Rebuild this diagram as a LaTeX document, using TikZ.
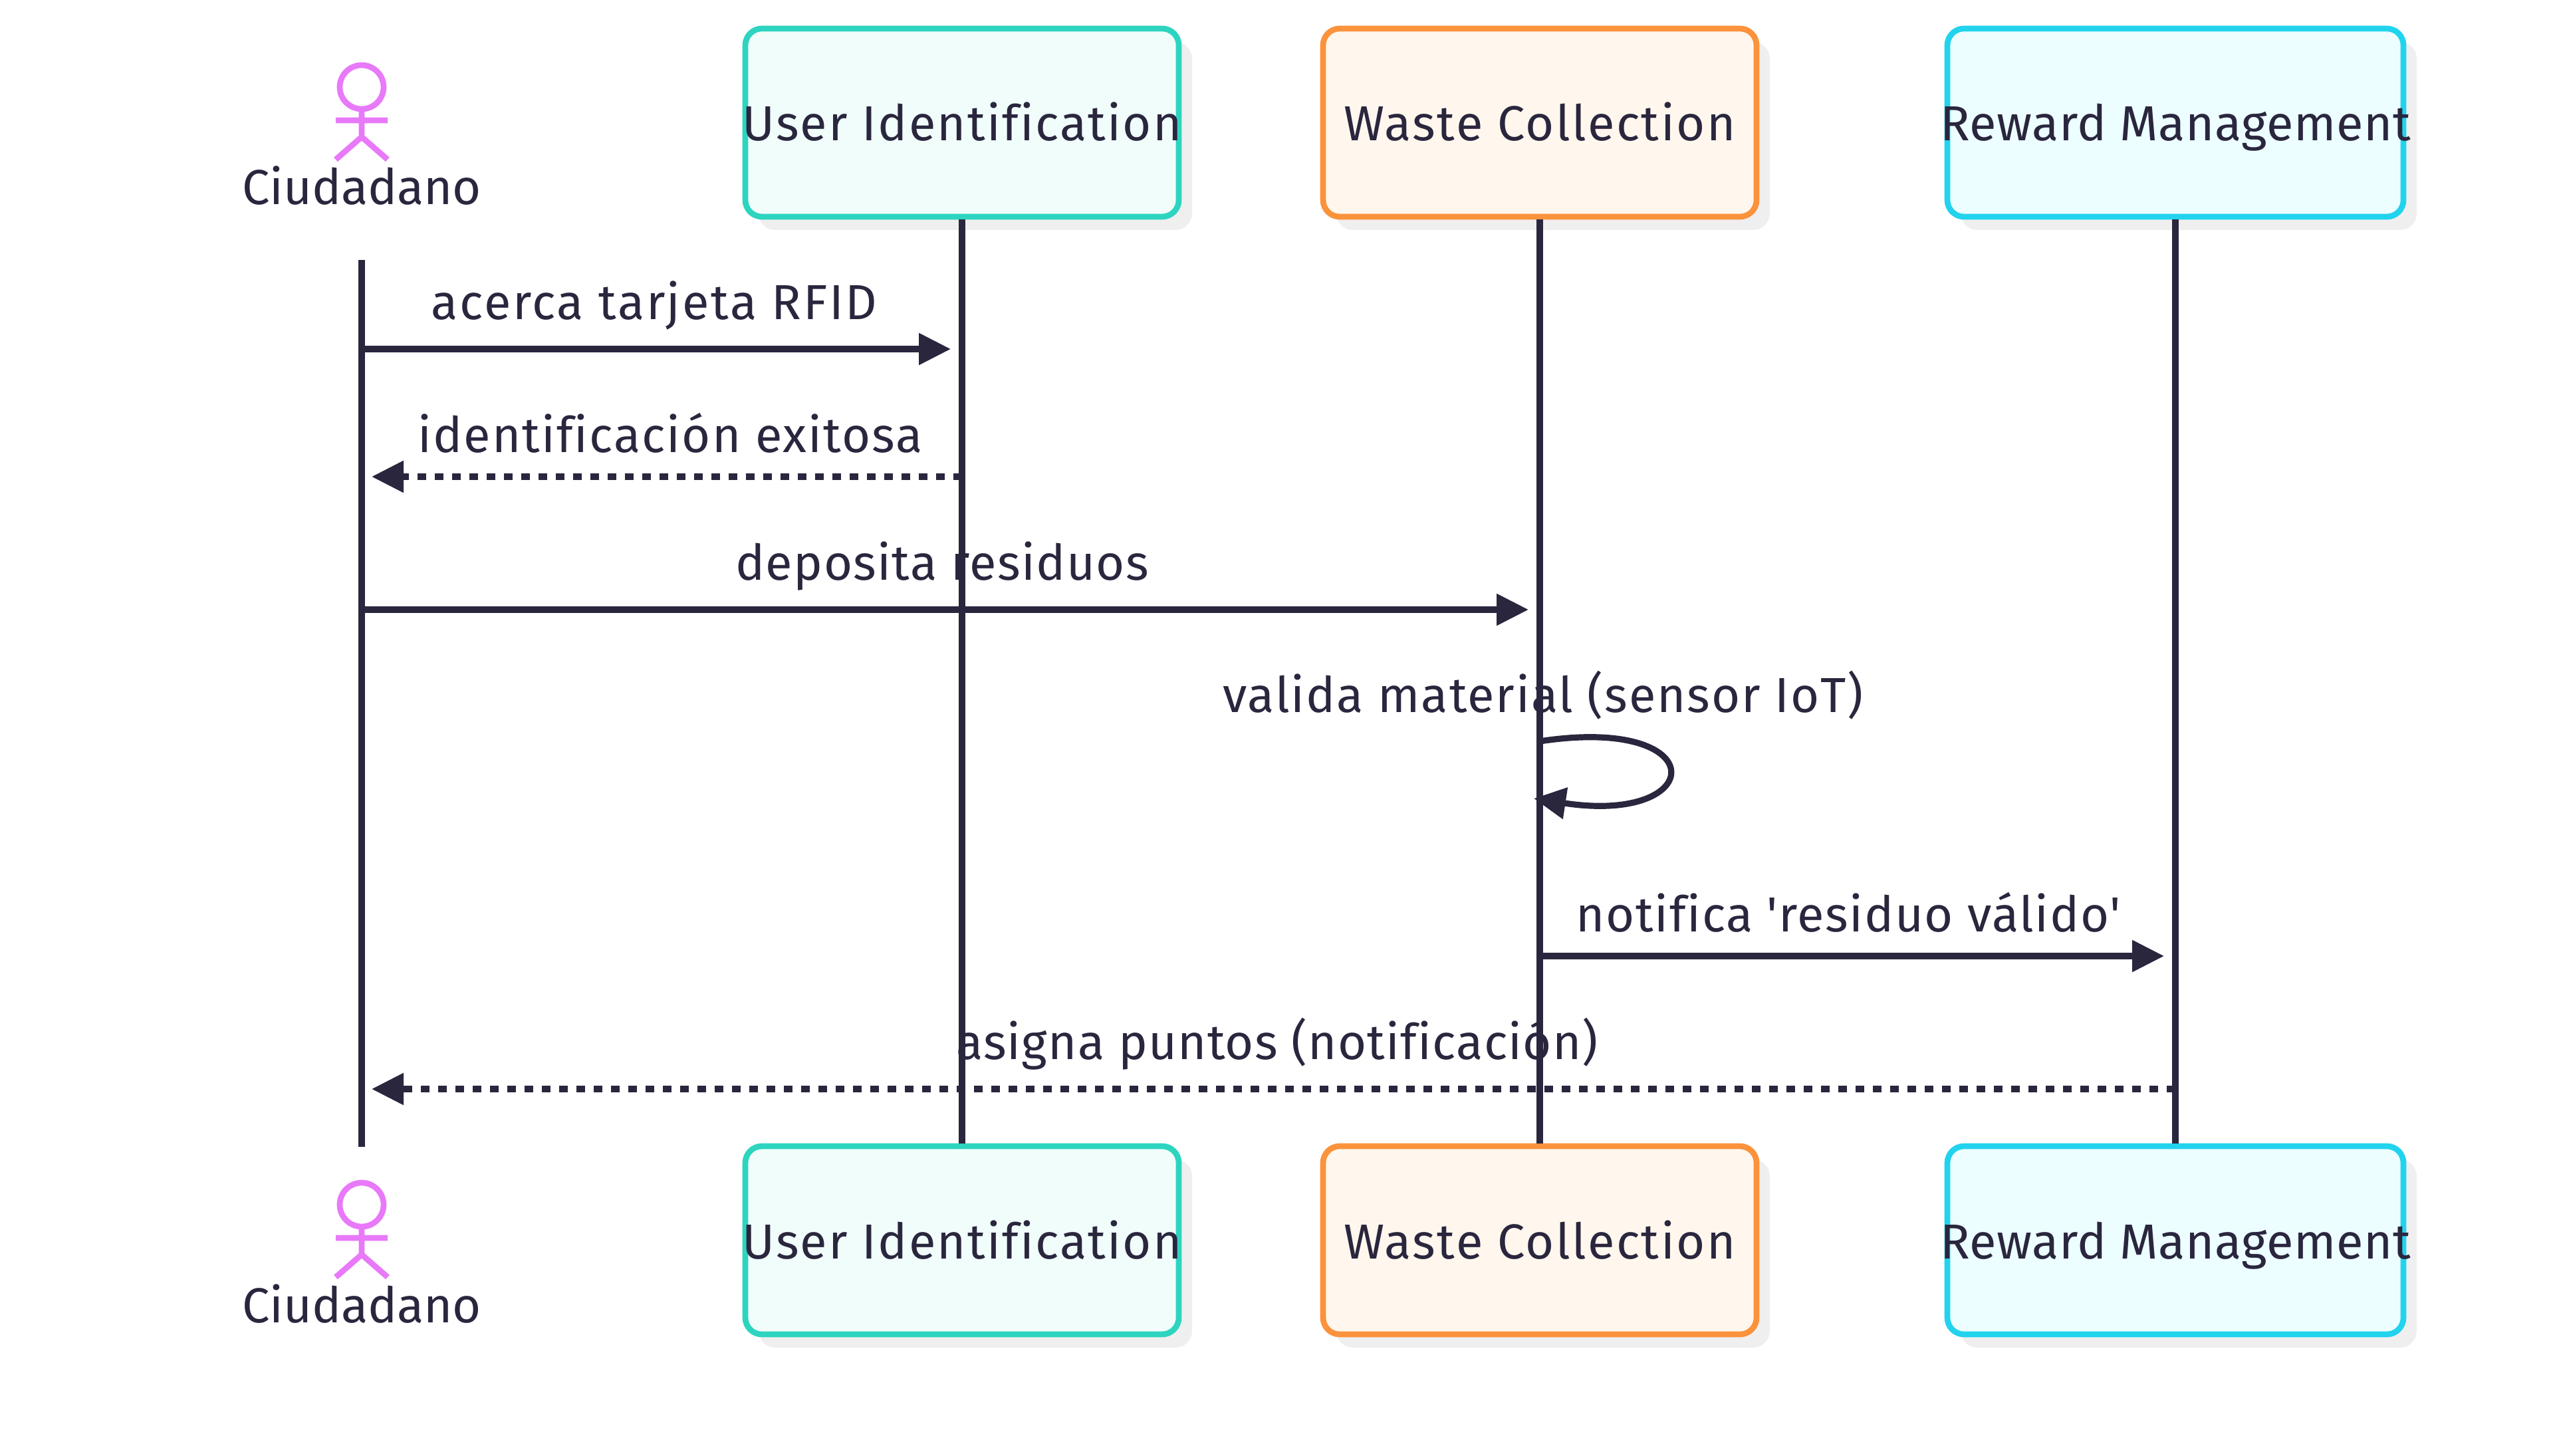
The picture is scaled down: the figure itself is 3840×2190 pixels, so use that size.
\documentclass[tikz,border=0pt]{standalone}
\usepackage{fontspec}
\setmainfont[Ligatures={CommonOff,TeXOff}]{Fira Sans}
\usetikzlibrary{arrows.meta,shadows}
\definecolor{inkc}{HTML}{2A263E}
\definecolor{actorc}{HTML}{E879F9}
\definecolor{shadowc}{HTML}{EFEFEF}
\definecolor{tealc}{HTML}{2DD4BF}
\definecolor{tealf}{HTML}{F0FDFA}
\definecolor{orangec}{HTML}{FB923C}
\definecolor{orangef}{HTML}{FFF7ED}
\definecolor{cyanc}{HTML}{22D3EE}
\definecolor{cyanf}{HTML}{ECFEFF}
\tikzset{
	box/.style={rectangle,rounded corners=6.25pt,line width=2.175pt,inner sep=0pt,
		minimum width=163pt,minimum height=70.75pt,text=inkc,
		drop shadow={shadow xshift=5pt,shadow yshift=-5pt,fill=shadowc,opacity=1}},
	usrbox/.style={box,draw=tealc,fill=tealf},
	wstbox/.style={box,draw=orangec,fill=orangef},
	rwdbox/.style={box,draw=cyanc,fill=cyanf,minimum width=171.5pt},
	txt/.style={anchor=base,inner sep=0pt,text=inkc,
		font=\fontsize{18.5}{22}\selectfont\addfontfeature{LetterSpace=#1}},
	life/.style={draw=inkc,line width=2.3pt},
	msg/.style={draw=inkc,line width=2.3pt,-{Triangle[length=12pt,width=11.5pt]}},
	rply/.style={msg,dash pattern=on 3.25pt off 3.25pt},
	stick/.style={draw=actorc,line width=2.175pt}
}
\begin{document}
\begin{tikzpicture}[x=0.25pt,y=-0.25pt]
	\useasboundingbox (0,0) rectangle (3840,2190);
	% participants
	\node[usrbox] (usrTop) at (1447,184.5) {};
	\node[wstbox] (wstTop) at (2316,184.5) {};
	\node[rwdbox] (rwdTop) at (3272,184.5) {};
	\node[usrbox] (usrBot) at (1447,1865.5) {};
	\node[wstbox] (wstBot) at (2316,1865.5) {};
	\node[rwdbox] (rwdBot) at (3272,1865.5) {};
	\foreach \nm/\by in {Top/212,Bot/1893} {
		\node[txt=3] (usr\nm Txt) at (1447,\by) {User Identification};
		\node[txt=3.3] (wst\nm Txt) at (2316,\by) {Waste Collection};
		\node[txt=0.8] (rwd\nm Txt) at (3272,\by) {Reward Management};
	}
	% actor
	\foreach \nm/\ay in {citTop/0,citBot/1681} {
		\draw[stick] (544,\ay+131) circle (33);
		\draw[stick] (544,\ay+168) -- (544,\ay+206)
			(505,\ay+181) -- (583,\ay+181)
			(505,\ay+240) -- (544,\ay+206) -- (583,\ay+240);
		\node[txt=-0.4] (\nm) at (544,\ay+308) {Ciudadano};
	}
	\coordinate (citA) at (544,391);
	\coordinate (citB) at (544,1725);
	% lifelines
	\draw[life] (citA) -- (citB);
	\draw[life] (usrTop.south) -- (usrBot.north);
	\draw[life] (wstTop.south) -- (wstBot.north);
	\draw[life] (rwdTop.south) -- (rwdBot.north);
	% messages
	\coordinate (a1) at (544,525);
	\coordinate (b1) at (1430,525);
	\coordinate (a2) at (1447,717);
	\coordinate (b2) at (559,717);
	\coordinate (a3) at (544,917);
	\coordinate (b3) at (2299,917);
	\coordinate (a4) at (2316,1115);
	\coordinate (b4) at (2307,1201);
	\coordinate (a5) at (2316,1438);
	\coordinate (b5) at (3255,1438);
	\coordinate (a6) at (3272,1638);
	\coordinate (b6) at (559,1638);
	\draw[msg] (a1) -- (b1);
	\draw[rply] (a2) -- (b2);
	\draw[msg] (a3) -- (b3);
	\draw[msg] (a4) .. controls +(262,-40) and +(262,40) .. (b4);
	\draw[msg] (a5) -- (b5);
	\draw[rply] (a6) -- (b6);
	\node[txt=3.7] (t1) at (984,481) {acerca tarjeta RFID};
	\node[txt=2.7] (t2) at (1008,681) {identificación exitosa};
	\node[txt=1.9] (t3) at (1417,873) {deposita residuos};
	\node[txt=2.6] (t4) at (2321,1072) {valida material (sensor IoT)};
	\node[txt=2.2] (t5) at (2780,1401) {notifica 'residuo válido'};
	\node[txt=1.6] (t6) at (1921,1593) {asigna puntos (notificación)};
\end{tikzpicture}
\end{document}
